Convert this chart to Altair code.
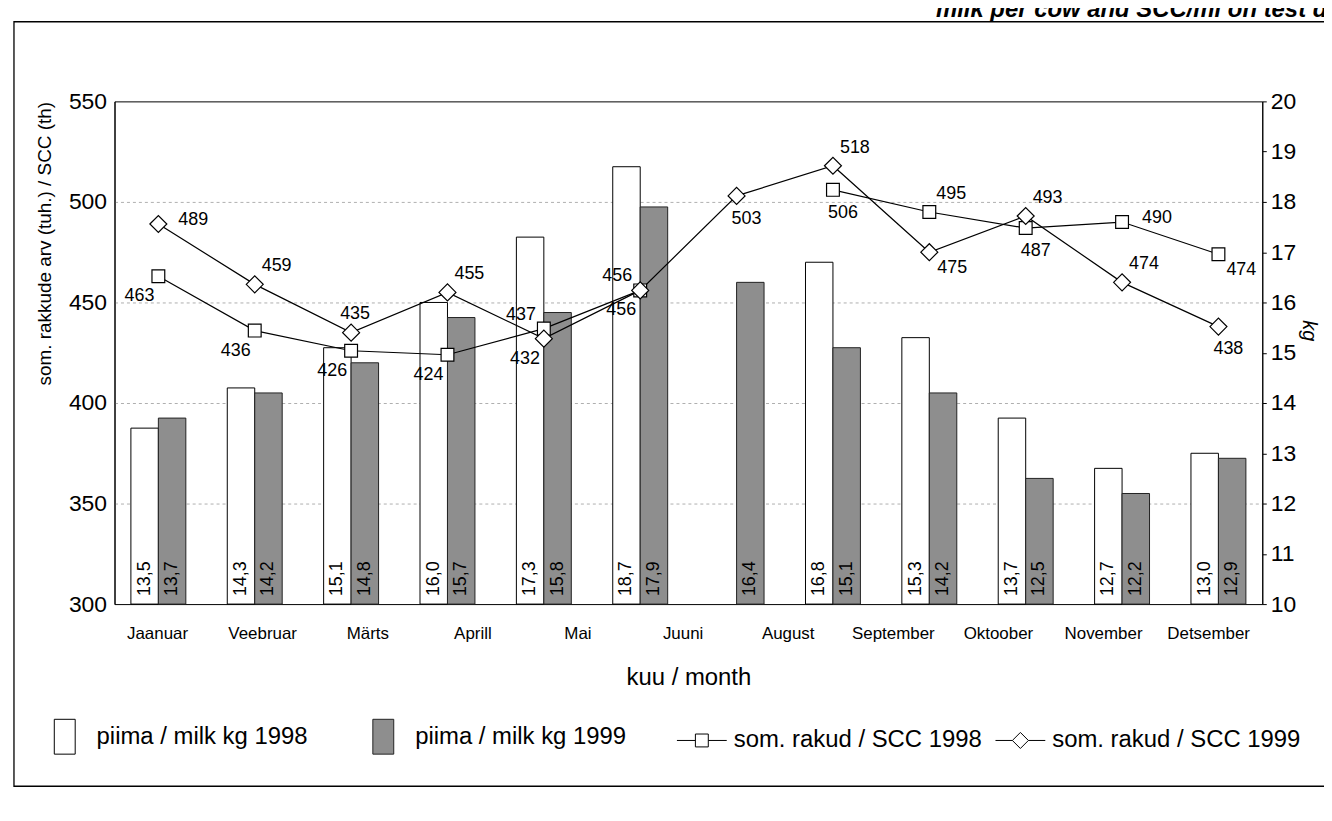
import altair as alt
import pandas as pd

# ---------------- data ----------------
months = ["Jaanuar", "Veebruar", "Märts", "Aprill", "Mai", "Juuni", "Juuli",
          "August", "September", "Oktoober", "November", "Detsember"]
month_labels = ["Jaanuar", "Veebruar", "Märts", "Aprill", "Mai", "Juuni",
                "August", "September", "Oktoober", "November", "Detsember"]
milk_1998 = [13.5, 14.3, 15.1, 16.0, 17.3, 18.7, None, 16.8, 15.3, 13.7, 12.7, 13.0]
milk_1999 = [13.7, 14.2, 14.8, 15.7, 15.8, 17.9, 16.4, 15.1, 14.2, 12.5, 12.2, 12.9]
# marker positions
scc_1998 = [463, 436, 426, 424, 437, 456, None, 506, 495, 487, 490, 474]
scc_1999 = [489, 459, 435, 455, 432, 456, 503, 518, 475, 493, 460, 438]
# value labels as printed next to the markers
scc_1998_text = ["463", "436", "426", "424", "437", "456", "", "506", "495", "487", "490", "474"]
scc_1999_text = ["489", "459", "435", "455", "432", "456", "503", "518", "475", "493", "474", "438"]
# where each SCC value label sits relative to its marker
scc_1998_label_side = ["bl", "bl", "bl", "bl", "al", "bl", None, "b", "ar", "b", "r", "br"]
scc_1999_label_side = ["r", "ar", "a", "ar", "bl", "al", "b", "ar", "br", "ar", "ar", "b"]

S98 = "piima / milk kg 1998"
S99 = "piima / milk kg 1999"
L98 = "som. rakud / SCC 1998"
L99 = "som. rakud / SCC 1999"
series_names = [S98, S99, L98, L99]
title_fragment = "milk per cow and SCC/ml on test day"

FONT = "Liberation Sans"
W, H = 1153, 505

# ---------------- tables ----------------
def milk_table(vals, name):
    rows = []
    for m, v in zip(months, vals):
        if v is None:
            continue
        rows.append({"month": m, "series": name, "kg": v, "base": 10,
                     "lab": f"{v:.1f}".replace(".", ",")})
    return pd.DataFrame(rows)

def scc_table(vals, texts, sides, name):
    rows = []
    for m, v, t, s in zip(months, vals, texts, sides):
        rows.append({"month": m, "series": name, "scc": v, "side": s, "lab": t})
    return pd.DataFrame(rows)

milk98_df = milk_table(milk_1998, S98)
milk99_df = milk_table(milk_1999, S99)
milk_df = pd.concat([milk98_df, milk99_df], ignore_index=True)
scc98_df = scc_table(scc_1998, scc_1998_text, scc_1998_label_side, L98)
scc99_df = scc_table(scc_1999, scc_1999_text, scc_1999_label_side, L99)
scc_df = pd.concat([scc98_df, scc99_df], ignore_index=True)
scc_pts = scc_df.dropna(subset=["scc"])

# ---------------- scales / axes ----------------
X = alt.X("month:N", sort=months,
          scale=alt.Scale(type="band", paddingInner=0.43, paddingOuter=0.17),
          axis=None)
XO = alt.XOffset("series:N", scale=alt.Scale(domain=[S98, S99]))

kg_scale = alt.Scale(domain=[10, 20], nice=False, zero=False)
scc_scale = alt.Scale(domain=[300, 550], nice=False, zero=False)

kg_axis = alt.Axis(orient="right", values=list(range(10, 21)), title="kg",
                   titleFontStyle="italic", titleFontWeight="normal", titleFontSize=20,
                   titlePadding=3, titleY=230, labelFontSize=23, labelPadding=4,
                   tickSize=4, tickColor="black", domainColor="black", grid=False,
                   labelColor="black", titleColor="black")
scc_axis = alt.Axis(orient="left", values=[300, 350, 400, 450, 500, 550],
                    title="som. rakkude arv (tuh.) / SCC (th)", titleFontSize=19,
                    titleFontWeight="normal", titleAnchor="end", titlePadding=14,
                    labelFontSize=23, labelPadding=8, ticks=False,
                    domainColor="black", grid=True, gridDash=[3, 3],
                    gridColor="#9a9a9a", gridWidth=0.8,
                    gridOpacity={"condition": {"test": "datum.value == 300 || datum.value == 550",
                                               "value": 0}, "value": 1},
                    labelColor="black", titleColor="black")

# ---------------- bars (kg, right axis) ----------------
bars98 = alt.Chart(milk98_df).mark_bar(fill="white", stroke="black", strokeWidth=1).encode(
    x=X, xOffset=XO,
    y=alt.Y("kg:Q", scale=kg_scale, axis=kg_axis),
    y2="base:Q",
)
bars99 = alt.Chart(milk99_df).mark_bar(fill="#8e8e8e", stroke="#222", strokeWidth=1).encode(
    x=X, xOffset=XO,
    y=alt.Y("kg:Q", scale=kg_scale, axis=kg_axis),
    y2="base:Q",
)
bar_text = alt.Chart(milk_df).mark_text(
    angle=270, align="left", baseline="middle", dx=8, fontSize=18, font=FONT, color="black"
).encode(
    x=X, xOffset=XO,
    y=alt.Y("base:Q", scale=kg_scale, axis=kg_axis),
    text="lab:N",
)
kg_layer = alt.layer(bars98, bars99, bar_text)

# ---------------- lines (SCC, left axis) ----------------
def scc_y():
    return alt.Y("scc:Q", scale=scc_scale, axis=scc_axis)

line98 = alt.Chart(scc98_df).mark_line(color="black", strokeWidth=1.2,
                                       invalid="break-paths-show-domains").encode(x=X, y=scc_y())
line99 = alt.Chart(scc99_df).mark_line(color="black", strokeWidth=1.2).encode(x=X, y=scc_y())
pts98 = alt.Chart(scc98_df.dropna(subset=["scc"])).mark_point(
    shape="square", size=165, filled=True, fill="white", stroke="black", strokeWidth=1.2,
    opacity=1).encode(x=X, y=scc_y())
pts99 = alt.Chart(scc99_df).mark_point(
    shape="diamond", size=290, filled=True, fill="white", stroke="black", strokeWidth=1.2,
    opacity=1).encode(x=X, y=scc_y())

side_style = {
    "r": (20, -4, "left"),
    "ar": (7, -18, "left"),
    "a": (4, -19, "center"),
    "al": (-8, -14, "right"),
    "bl": (-4, 20, "right"),
    "b": (10, 23, "center"),
    "br": (8, 16, "left"),
}
label_layers = []
for code, (dx, dy, al) in side_style.items():
    label_layers.append(
        alt.Chart(scc_pts).transform_filter(alt.datum.side == code).mark_text(
            dx=dx, dy=dy, align=al, baseline="middle", fontSize=18, font=FONT, color="black"
        ).encode(x=X, y=scc_y(), text="lab:N")
    )
scc_layer = alt.layer(line98, line99, pts98, pts99, *label_layers)

inner = alt.layer(kg_layer, scc_layer).resolve_scale(y="independent")

# ---------------- month labels (11 evenly spaced labels) ----------------
month_layer = alt.Chart(pd.DataFrame({"mlabel": month_labels})).mark_point(opacity=0).encode(
    x=alt.X("mlabel:N", sort=month_labels,
            scale=alt.Scale(type="point", padding=0.46, align=0.44),
            axis=alt.Axis(orient="bottom", domain=False, ticks=False, grid=False,
                          labelAngle=0, labelPadding=22, labelFontSize=17,
                          labelColor="black", title="kuu / month", titleFontSize=24,
                          titleFontWeight="normal", titlePadding=24, titleColor="black"))
)

# ---------------- legend ----------------
line_sq = "M-1.43,0H-0.37M-0.37,-0.37H0.37V0.37H-0.37ZM0.37,0H1.43"
line_di = "M-1.43,0H-0.46M-0.46,0L0,-0.46L0.46,0L0,0.46ZM0.46,0H1.43"
box = "M-0.6,-1H0.6V1H-0.6Z"
leg = alt.Legend(title=None, orient="none", legendX=-68, legendY=620, direction="horizontal",
                 columns=4, gridAlign="all", symbolSize=1225, symbolStrokeColor="black",
                 symbolStrokeWidth=1, labelFontSize=24, labelFont=FONT, labelColor="black",
                 labelOffset=14, columnPadding=10, labelLimit=400, padding=0)
legend_layer = alt.Chart(pd.DataFrame({"series": series_names})).transform_filter("false").mark_point(
    filled=True, strokeWidth=1, opacity=1
).encode(
    fill=alt.Fill("series:N", scale=alt.Scale(domain=series_names,
                                               range=["white", "#8e8e8e", "white", "white"]),
                  legend=leg),
    stroke=alt.Stroke("series:N", scale=alt.Scale(domain=series_names,
                                                   range=["black", "#222", "black", "black"]),
                      legend=leg),
    shape=alt.Shape("series:N", scale=alt.Scale(domain=series_names,
                                                 range=[box, box, line_sq, line_di]),
                    legend=leg),
)

# ---------------- decoration: outer frame and cut-off heading ----------------
frame = alt.Chart(pd.DataFrame({"a": [0]})).mark_rect(
    fillOpacity=0, stroke="black", strokeWidth=1.3
).encode(x=alt.value(-101), x2=alt.value(W + 120), y=alt.value(-80), y2=alt.value(688))
heading = alt.Chart(pd.DataFrame({"a": [0]})).mark_text(
    align="right", baseline="alphabetic", fontSize=24, fontWeight="bold",
    fontStyle="italic", font=FONT, color="black"
).encode(x=alt.value(W + 92), y=alt.value(-85), text=alt.value(title_fragment))

chart = alt.layer(inner, month_layer, legend_layer, frame, heading).resolve_scale(
    x="independent"
).properties(
    width=W, height=H,
    autosize=alt.AutoSizeParams(type="none"),
    padding={"left": 107, "top": 92, "right": 62, "bottom": 195},
).configure(
    font=FONT, background="white"
).configure_view(
    stroke="black", strokeWidth=1
)

chart.save("out.html", embed_options={"renderer": "svg", "actions": False})
